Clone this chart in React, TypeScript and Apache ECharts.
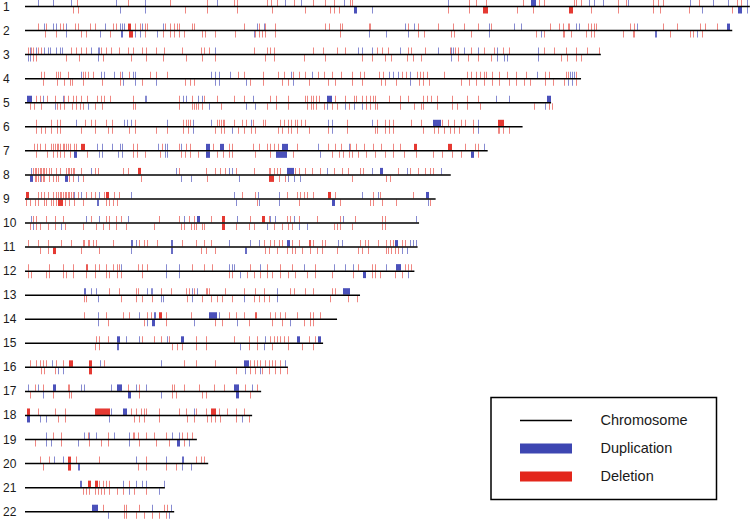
import React, { useEffect, useRef } from "react";
import * as echarts from "echarts";

type Mark = number | [number, number];
interface ChrCnv { dupUp: Mark[]; delUp: Mark[]; dupDown: Mark[]; delDown: Mark[]; }

// chromosome names and lengths (Mb)
const chromosomes = ["1","2","3","4","5","6","7","8","9","10","11","12","13","14","15","16","17","18","19","20","21","22"];
const lengthsMb = [249.25, 243.2, 198.0, 191.2, 180.9, 171.1, 159.1, 146.4, 141.2, 135.5, 135.0, 133.9, 115.2, 107.3, 102.5, 90.4, 81.2, 78.1, 59.1, 63.0, 48.1, 51.3];
const legendLabels = ["Chromosome", "Duplication", "Deletion"];

// CNV positions in Mb: Up = upper track, Down = lower track
const chr1: ChrCnv = {
  dupUp: [4.5, 9.6, 15.8, 31.2, 41.4, 66.1, 89.4, 94.9, 109.6, 145.5, [174, 175.7], 193.8, 195.5, 198.6, 207.5, 228.8, 236.6, 241.8, 248.3],
  delUp: [17.8, 35.3, 50.0, 62.7, 71.9, 72.9, 83.2, 84.6, 86.6, 92.5, 99.0, 103.1, 106.2, 111.6, 112.3, 152.7, 155.1, 158.6, 171.2, 176.7, 178.4, 188.7, 189.4, 191.1, 203.8, 206.8, 215.8, 217.8, 219.5, 231.9, 244.9, 246.2],
  dupDown: [32.5, 41.4, [113.0, 114.0], 119.2, 232.9, [245.2, 246.6], 248.3],
  delDown: [16.4, 18.2, 55.1, 62.7, 72.9, 84.9, 96.2, 104.8, 106.2, 107.9, 145.5, 152.7, [157.5, 159.2], 169.2, 174.7, [187.0, 188.4], 194.5, 203.8, 215.8, 218.5, 228.4, 243.2],
};
const chr2: ChrCnv = {
  dupUp: [6.7, 9.6, 10.6, 14.0, 27.4, 32.5, 33.2, 34.2, 40.4, 47.3, 79.8, 82.2, 130.5, 133.6, 159.6, 168.2, 170.5, 189.4, 190.4, 210.6, [241.4, 242.5]],
  delUp: [4.5, 7.2, 12.0, 13.0, 17.1, 18.2, 22.3, 24.0, 30.1, 31.2, [35.3, 36.3], 37.7, 39.7, 41.4, 42.1, 48.3, 49.7, 51.4, 52.4, 53.1, 57.5, 58.2, 75.3, 80.5, 82.5, 86.0, 103.1, 104.5, 108.2, 108.9, 118.2, 118.5, 131.8, 135.3, 142.1, 147.3, 151.0, 155.8, 160.3, 180.5, 183.6, 184.9, 186.6, 187.0, 193.5, 194.5, 195.5, 196.2, 208.2, 209.3, 219.5, 224.3, 232.2, 233.9, 238.0],
  dupDown: [14.0, 25.7, [32.9, 33.6], 37.7, 39.4, 45.5, 78.8, 118.2, 124.3, [131.8, 132.2], 159.6, 177.4, [216.8, 217.5], 231.2],
  delDown: [6.8, 10.6, 19.2, 20.9, 29.1, [35.6, 37.0], 41.4, 47.3, 50.0, 51.4, 53.1, 54.8, 61.0, 62.0, 65.4, 72.3, 79.1, 80.5, 81.5, 82.5, 86.0, 108.2, 135.3, 137.3, 146.6, 147.6, 153.4, 175.7, 178.4, 184.9, 185.3, 187.7, 192.8, 194.5, 195.5, 205.8, 208.9, 209.3, 221.9, 228.8, 229.8, 232.9],
};
const chr3: ChrCnv = {
  dupUp: [1.6, 3.9, 6.7, 7.9, 8.5, 10.7, 11.9, 12.8, 22.7, 25.0, 25.6, 65.5, 114.6, 115.8, 119.2, 128.9, 142.0, 146.6, 147.3, 151.1, 155.7, 162.3, 176.3],
  delUp: [1.0, 2.2, 2.7, 4.5, 5.6, 15.9, 17.6, 19.1, 21.0, 26.1, 27.8, 29.6, 32.4, 35.3, 37.0, 40.4, 41.5, 45.0, 47.8, 54.1, 60.4, 61.5, 63.3, 78.7, 83.2, 84.4, 85.5, 99.2, 102.6, 107.2, 110.0, 120.9, 122.6, 124.9, 131.7, 132.9, 137.4, 146.2, 147.9, 148.9, 153.4, 158.0, 161.3, 164.3, 166.5, 178.5, 182.0, 186.0, 189.4, 193.4, 197.4],
  dupDown: [1.0, 1.6, 25.0, 146.6, 162.3, 164.8, 165.8, 176.3],
  delDown: [2.7, 3.9, 14.1, 18.7, 26.7, 36.4, 41.5, 47.3, 55.2, 61.0, 65.5, 82.6, 85.5, 95.8, 103.2, 115.8, 119.2, 123.7, 126.0, 131.2, 133.5, 136.3, 148.9, 152.3, 155.7, 160.3, 184.2, 186.5, 189.4, 191.1],
};
const chr4: ChrCnv = {
  dupUp: [19.4, 26.0, 27.3, 30.6, 33.2, 37.1, 37.8, 64.0, 65.4, 66.7, 70.6, 91.6, 98.8, 125.1, 126.4, 128.3, 132.3, 176.2, 187.4, 188.1, 188.7],
  delUp: [5.6, 6.7, 10.6, 11.3, 12.2, 14.8, 20.1, 20.7, 21.7, 23.4, 32.5, 35.8, 43.0, 45.0, 49.0, 73.2, 75.2, 81.8, 87.0, 89.0, 92.3, 94.2, 96.2, 100.8, 102.8, 105.4, 108.7, 112.6, 115.2, 116.5, 121.8, 123.1, 129.7, 131.0, 134.9, 135.8, 136.9, 138.2, 144.1, 152.0, 153.3, 155.2, 156.5, 157.9, 158.5, 160.5, 163.1, 165.7, 169.0, 172.3, 178.9, 180.2, 186.1, 186.7, 189.4],
  dupDown: [33.8, 37.8, 45.0, 65.4, 66.7, 75.9, 92.3, 132.3, 186.7, 188.1],
  delDown: [6.3, 10.9, 13.5, 15.5, 16.1, 20.1, 26.6, 32.5, 40.4, 54.9, 56.8, 58.1, 77.2, 81.8, 88.3, 90.3, 97.5, 104.1, 106.7, 112.6, 115.9, 122.4, 123.8, 127.7, 135.6, 136.9, 138.9, 150.0, 152.6, 155.2, 157.9, 160.5, 163.1, 166.4, 169.0, 171.7, 173.6, 178.9, 181.5, 185.4, 189.4],
};
const chr5: ChrCnv = {
  dupUp: [[0.7, 2.4], 6.3, 12.9, 41.1, 41.7, 54.2, 55.5, 59.4, 60.8, 78.5, [103.8, 105.4], 161.8, 166.4, [179.5, 180.8]],
  delUp: [3.7, 5.0, 7.6, 10.2, 13.5, 14.8, 16.4, 17.5, 19.4, 21.4, 24.7, 26.0, 27.3, 29.3, 37.1, 52.9, 57.5, 61.4, 66.0, 71.9, 75.2, 84.4, 86.4, 90.3, 96.2, 97.1, 98.2, 99.1, 100.1, 101.2, 106.7, 110.0, 113.3, 113.9, 115.9, 117.2, 118.5, 119.8, 120.5, 125.1, 129.0, 131.6, 136.9, 138.2, 139.5, 141.5, 146.7, 152.0, 155.9],
  dupDown: [10.2, 21.7, 63.4, 75.9, 79.1, 103.8, 110.0, 113.3, 115.9, 178.9],
  delDown: [1.7, 3.0, 5.4, 10.9, 12.2, 13.5, 16.1, 17.5, 18.8, 20.1, 24.0, 26.6, 37.1, 37.8, 52.9, 57.5, 58.1, 58.8, 59.4, 60.8, 67.3, 83.1, 86.4, 90.3, 96.9, 98.2, 99.1, 100.1, 102.8, 105.4, 107.3, 111.3, 117.2, 118.5, 120.5, 121.1, 129.0, 133.6, 136.2, 136.9, 141.5, 146.7, 148.7, 152.0, 156.6, 174.9, 180.2, 181.1],
};
const chr6: ChrCnv = {
  dupUp: [17.7, 33.9, 35.2, 36.5, 49.0, 57.9, 64.0, 77.6, 104.1, 105.4, 119.2, [140.2, 142.8], 155.9],
  delUp: [3.7, 8.9, 10.9, 11.9, 20.7, 22.7, 24.0, 28.0, 29.9, 37.8, 54.2, 55.3, 56.2, 56.8, 66.0, 66.7, 67.3, 68.0, 68.6, 71.9, 74.5, 75.9, 78.5, 81.8, 82.4, 87.7, 89.0, 90.3, 91.6, 92.9, 93.6, 94.9, 96.2, 110.6, 121.1, 123.8, 125.1, 126.4, 132.9, 136.2, 143.4, 145.4, 147.4, 150.0, 151.3, 153.9, [162.5, 164.4]],
  dupDown: [57.9, 71.3, 105.4, 155.9],
  delDown: [3.7, 5.6, 7.0, 8.9, 10.9, 12.2, 19.4, 24.0, 28.6, 29.9, 35.8, 37.8, 45.0, 49.0, 54.2, 56.2, 65.4, 67.3, 68.6, 73.2, 75.2, 77.8, 79.1, 87.0, 88.3, 90.3, 91.6, 93.6, 97.5, 104.1, 110.6, 120.5, 121.1, 123.8, 125.1, 126.4, 136.9, 140.8, 142.1, 144.1, 146.1, 147.4, 149.3, 153.9, 162.5, 163.1, 164.4, 166.4],
};
const chr7: ChrCnv = {
  dupUp: [24.7, 26.6, 29.9, 32.5, 33.2, 45.7, 48.3, 49.0, 53.5, [62.1, 63.4], [67.1, 68.4], [88.3, 90.3], 100.8, 111.3, 157.9],
  delUp: [3.0, 4.1, 5.0, 7.0, 8.9, 9.6, 10.2, 10.9, 11.5, 12.2, 12.9, 13.5, 14.2, 14.8, 15.5, 16.8, 17.5, [19.4, 20.7], 37.1, 38.5, 47.0, 52.9, 55.5, 56.8, 64.7, 70.0, 71.3, 78.5, 80.4, 83.1, 84.4, 85.7, 87.0, 93.6, 104.1, 106.7, 108.7, 111.9, 113.9, 116.5, 119.8, 122.4, 126.4, 129.0, [133.6, 134.5], [145.4, 146.7], 151.3, 154.6, 155.9],
  dupDown: [[16.8, 17.8], 25.3, 26.6, 31.9, 33.2, 48.3, 49.0, [62.1, 63.4], [86.4, 90.3], 101.4, [153.3, 154.2]],
  delDown: [3.7, 7.6, 9.6, 10.9, 12.2, 13.5, 15.5, 21.4, 37.1, 38.5, 41.1, 46.3, 53.5, 54.9, 56.8, 59.4, 66.0, 68.0, 70.0, 71.3, 79.1, 84.4, 92.3, 105.4, 108.0, 109.3, 111.3, 112.6, 114.6, 117.2, 120.5, 123.8, 126.4, 130.3, 134.3, 140.2, 143.4, 146.7, 150.0, 155.9],
};
const chr8: ChrCnv = {
  dupUp: [2.2, 22.7, 51.8, 70.1, 71.2, [90.1, 92.4], 103.8, 119.2, [122.0, 123.2], 131.2, 143.2],
  delUp: [2.7, 3.3, 3.9, 4.5, 5.0, 5.6, 6.2, 6.7, 7.3, 8.4, 9.0, 10.7, 11.9, 14.2, 14.7, 15.3, 15.9, 16.4, 17.0, 19.3, 23.9, 25.0, 33.6, 35.3, [38.7, 39.8], 53.0, 62.1, 65.5, 67.2, 68.9, 72.4, 78.7, 83.8, 84.4, 85.5, 86.6, 87.8, 92.9, 94.1, 96.3, 98.6, 101.5, 106.1, 108.9, 111.2, 115.2, 116.3, 128.3, 132.3, 135.2, 137.4, 139.2, 140.3],
  dupDown: [[1.6, 2.7], 5.0, [13.6, 14.7], 18.2, 53.5, 57.0, 73.5, 90.6, 92.4, 94.6],
  delDown: [3.3, 3.9, 4.5, 5.6, 6.2, 6.7, 8.4, 9.6, 10.7, 11.3, 15.3, 16.4, 19.9, 39.8, 62.7, [83.8, 85.5], 87.2, 89.5, 112.3, 124.3, 125.5],
};
const chr9: ChrCnv = {
  dupUp: [17.0, 19.3, 25.6, 36.4, 71.8, 80.1, 87.2, 115.8, 121.5, [138.0, 139.2]],
  delUp: [[0.5, 1.6], 4.5, 5.6, 6.7, 7.9, 9.6, 10.7, 11.3, 11.9, 12.4, 13.0, 13.6, 14.2, 14.7, 15.3, 15.9, 16.4, 18.2, 21.0, 22.7, 23.9, 27.3, [27.9, 29.0], 30.7, 32.4, 74.7, 79.2, 90.1, 93.5, 94.6, 95.8, 96.9, 99.2, [104.3, 105.5], 106.6, 119.7, 122.0, 133.4],
  dupDown: [[24.8, 25.6], 72.4, 80.4, 87.2, [105.5, 106.6], 138.6],
  delDown: [0.5, 1.6, 3.3, 4.5, 6.7, 7.3, 9.0, 9.6, 10.7, [11.3, 13.0], 13.6, 15.3, 17.0, 19.9, 27.9, 29.0, 30.1, 31.8, 79.8, 94.1, 108.3, 118.6, 119.7, 122.6, 127.7, 139.2],
};
const chr10: ChrCnv = {
  dupUp: [2.2, 21.0, 25.6, 35.3, 54.7, [59.2, 60.4], 72.9, 84.4, 86.1, 92.4, 109.5, 134.6],
  delUp: [2.7, 3.9, 7.3, 10.2, 13.0, 22.7, 27.9, 29.0, 31.3, 33.0, 46.1, 53.0, 56.4, 58.1, 63.8, [67.8, 68.9], 77.5, [81.5, 82.6], 83.8, 90.1, 91.2, 94.1, 100.3, 108.3, 113.5, 122.6, 123.7],
  dupDown: [2.7, 12.4, 83.2, 94.1, 96.9],
  delDown: [1.6, 3.9, 5.0, 7.9, 10.2, 13.6, 19.9, 24.4, 26.7, 29.0, 31.3, 34.7, 44.4, 53.5, 54.7, 57.0, 58.1, 58.7, 61.0, 61.5, [67.8, 68.9], 72.4, 76.9, 78.7, 85.5, 88.4, 90.6, 91.8, 106.1, 107.2, 108.3, 112.3, 122.6, 123.7],
};
const chr11: ChrCnv = {
  dupUp: [[36.4, 37.0], 38.1, [50.1, 50.7], 70.1, 77.5, 80.4, [90.1, 91.2], 107.8, 108.9, [127.2, 128.3], 132.3, 133.4, 134.6],
  delUp: [1.0, [4.5, 5.0], 7.9, 12.4, 15.9, 19.9, 20.4, 21.6, 22.1, 23.3, 24.4, 30.1, 39.3, 41.0, 42.1, 45.5, 54.1, 58.7, 61.5, 63.8, 82.1, 84.4, 85.5, 87.2, 88.4, 91.8, 94.1, [97.5, 98.1], 99.2, 102.1, 103.2, 115.2, 116.9, 118.0, 121.5, 124.3, 125.5, 126.6, 129.5, 130.6],
  dupDown: [36.4, [50.1, 50.7], [75.8, 76.4], 129.5, 131.2],
  delDown: [5.0, 7.9, [9.6, 10.5], 19.3, 25.6, 60.4, 62.1, 65.5, 82.6, 83.8, 86.6, 90.1, 91.8, 92.9, 95.2, 98.1, 100.3, 102.1, 107.2, 114.6, 115.8, 118.0, 124.3, 124.9, 126.0, 127.2, 128.3],
};
const chr12: ChrCnv = {
  dupUp: [33.0, 48.4, 53.0, 70.1, 71.2, 71.8, 80.9, 95.8, 106.1, 110.0, 112.9, 124.3, [127.7, 129.5]],
  delUp: [1.0, 8.4, 13.0, 16.4, [21.0, 21.6], 23.9, 25.6, 27.9, 30.1, 31.8, 32.4, 38.7, 40.4, 42.1, 57.5, 61.5, 64.4, 77.5, 83.2, 87.8, 91.8, [99.8, 100.3], 114.6, 119.2, 120.3, 130.6, 131.7, 132.9],
  dupDown: [48.4, 53.0, 74.1, [116.3, 117.5], 131.7],
  delDown: [1.0, 2.2, 7.3, 8.4, 13.0, 14.2, 16.4, 21.0, 23.9, 27.9, 29.0, 31.8, 33.0, 40.4, 70.1, 71.2, 76.4, 78.7, 80.9, 83.2, 84.9, 87.8, 90.6, 92.9, 96.9, 99.8, 105.5, 112.9, 119.2, 120.3, 122.0, 127.2, 129.5],
};
const chr13: ChrCnv = {
  dupUp: [[20.2, 21.0], 22.7, 24.4, 42.1, 43.3, 43.8, 57.5, 59.2, 86.6, [109.5, 111.8]],
  delUp: [29.0, 32.4, 38.1, 38.7, 46.7, 50.1, 55.3, 56.4, 58.1, 62.1, 62.7, 63.2, 68.9, 75.2, 79.2, 82.1, 91.2, 92.4, 96.3, 99.2, 105.5, 106.6],
  dupDown: [25.0, 46.7, 47.3, 57.5, 75.2, 86.6],
  delDown: [20.4, 21.0, 33.0, 38.1, 40.4, 43.8, 55.8, 61.0, 63.8, 66.1, 67.8, 71.2, 78.7, 80.4, 82.1, 83.8, 104.9, 111.2, 114.0],
};
const chr14: ChrCnv = {
  dupUp: [25.0, [39.3, 39.8], [44.4, 45.2], [63.2, 66.1], 66.7],
  delUp: [20.4, [27.9, 28.4], 33.6, 35.8, 42.1, 43.3, [46.1, 47.3], 48.4, 57.0, 70.1, 72.4, 75.2, [79.2, 79.8], 84.4, 86.1, 87.8, 89.5, 93.5, 98.1, 99.2, 101.5],
  dupDown: [25.0, 42.1, [43.8, 45.0], 58.1, 72.9, 91.2],
  delDown: [28.4, 41.0, 48.4, 65.5, 67.8, 76.9, 84.9, 88.4, 95.8, 98.1, 99.2],
};
const chr15: ChrCnv = {
  dupUp: [[31.8, 33.0], 34.7, 39.3, 49.0, [53.5, 54.7], 82.6, [93.5, 94.6], [100.9, 102.1]],
  delUp: [24.4, 25.6, 28.4, 40.4, 44.4, 46.7, 49.5, 58.7, 62.1, 71.8, 76.9, 79.8, 84.4, 85.5, 86.6, 87.8, 88.9, 90.6, 97.5, 99.8],
  dupDown: [[31.8, 32.6], 74.1, 82.1],
  delDown: [23.9, 25.6, 50.7, 52.4, 54.1, 58.7, 62.1, 76.9, 79.8, 84.9, 90.6, 95.2, 99.2],
};
const chr16: ChrCnv = {
  dupUp: [9.4, 25.9, 46.7, [75.2, 76.9], 89.5],
  delUp: [1.6, 3.9, 5.3, 6.2, 7.1, 10.7, 13.0, [15.3, 16.8], [21.9, 23.1], 27.3, 54.7, 58.7, 65.5, 77.5, 78.7, 79.8, 80.9, 82.6, 83.8, 84.9, 86.1, 87.8],
  dupDown: [11.3, 13.0, 75.8, 80.9],
  delDown: [5.6, 6.7, 10.2, [21.9, 23.1], 72.4, 77.5, 79.2, 81.5, 83.8, 86.1, 87.8, 90.1],
};
const chr17: ChrCnv = {
  dupUp: [1.0, 4.5, [9.6, 10.5], 19.3, 20.4, 29.6, [31.8, 33.6], 38.1, 41.6, [71.8, 73.5], 78.1],
  delUp: [3.3, 6.2, 14.7, 15.3, 35.3, 39.3, 50.7, 51.3, 54.7, 59.8, 64.9, 68.4, 75.8, 79.8],
  dupDown: [6.2, [35.3, 36.4], 46.7, [72.4, 73.5]],
  delDown: [1.6, 9.6, 15.3, 15.9, 39.3, 50.7, 51.8, 61.0, 62.1, 77.5],
};
const chr18: ChrCnv = {
  dupUp: [29.6, [33.6, 34.9], 58.1],
  delUp: [[0.7, 1.6], 4.5, 10.2, 13.6, [23.9, 29.2], 36.4, 38.1, 39.8, 41.0, 41.6, 46.1, 53.0, 55.3, 58.7, 62.1, [63.8, 65.5], 66.7, 69.5, 72.4, 75.2],
  dupDown: [[0.7, 1.6], 5.0, 7.3, 29.0, 74.7],
  delDown: [11.3, 13.6, 37.6, 39.3, 41.0, 46.1, 55.8, 58.1, 62.7, 63.8, 65.5, 67.2, 72.4, 76.9],
};
const chr19: ChrCnv = {
  dupUp: [7.1, 20.4, 22.1, 24.4, 30.7, 35.8, 50.7, [53.0, 53.5]],
  delUp: [9.6, 12.4, 21.6, 28.4, 37.2, 37.6, 38.7, 41.6, 44.4, 48.4, 54.1, 55.8, 57.5],
  dupDown: [7.3, 9.0, 18.2, 35.8, [52.4, 53.5], 56.4],
  delDown: [3.3, 12.4, 22.1, 26.1, 28.4, 39.3, 45.0, 49.5, 54.7],
};
const chr20: ChrCnv = {
  dupUp: [9.9, 13.0, 38.1, 48.4, [54.1, 54.7]],
  delUp: [5.0, 8.4, [14.7, 15.9], 17.6, 25.3, 41.6, 58.7, 60.4, 61.5],
  dupDown: [[18.2, 19.0], 54.1, 57.0],
  delDown: [6.2, [14.7, 15.9], 38.7, 41.6, 48.4, 51.8],
};
const chr21: ChrCnv = {
  dupUp: [[18.9, 19.5], 33.6, 38.1, 40.4, 41.6, 47.8],
  delUp: [[21.6, 22.7], [23.9, 25.0], 25.6, 26.7, 27.9, 29.0, 35.8],
  dupDown: [35.8, 46.1],
  delDown: [19.9, 21.0, 22.1, 23.9, 25.0, 26.1, 27.3, 29.0, 31.8, 33.6, 37.6, 41.6],
};
const chr22: ChrCnv = {
  dupUp: [[23.1, 25.3], 43.8, 50.1],
  delUp: [26.7, 34.1, 34.7, 39.3, 47.8, 48.9],
  dupDown: [28.4, 49.5],
  delDown: [34.1, 34.9, 38.1, 41.0, 43.8, 46.1, 48.4],
};

const cnvByChromosome: ChrCnv[] = [chr1, chr2, chr3, chr4, chr5, chr6, chr7, chr8, chr9, chr10, chr11, chr12, chr13, chr14, chr15, chr16, chr17, chr18, chr19, chr20, chr21, chr22];

const BLUE = "#3d46b2";
const RED = "#e3261b";
const BLUE_RGB = "55, 62, 178";
const RED_RGB = "226, 36, 28";
const FONT = "'Liberation Sans', Arial, Helvetica, sans-serif";

function buildMarks(kind: "dup" | "del") {
  const out: number[][] = [];
  cnvByChromosome.forEach((c, i) => {
    const row = i + 1;
    const add = (list: Mark[], side: number) =>
      list.forEach((m) => {
        const [s, e] = typeof m === "number" ? [m, m] : m;
        out.push([s, e, row, side]);
      });
    if (kind === "dup") { add(c.dupUp, 0); add(c.dupDown, 1); }
    else { add(c.delUp, 0); add(c.delDown, 1); }
  });
  return out;
}

function markRenderer(rgb: string, thinAlpha: number) {
  return (params: any, api: any) => {
    const s = api.value(0), e = api.value(1), row = api.value(2), side = api.value(3);
    const p0 = api.coord([s, row]);
    const p1 = api.coord([e, row]);
    const x = Math.round(p0[0]);
    const w = Math.max(1, Math.round(p1[0] - p0[0]));
    const alpha = w <= 1 ? thinAlpha : w <= 2 ? 0.75 : 0.9;
    const y = side === 0 ? p0[1] - 7 : p0[1] + 0.5;
    return { type: "rect", shape: { x, y, width: w, height: 6.5 }, style: { fill: `rgba(${rgb}, ${alpha})` } };
  };
}

export default function App() {
  const ref = useRef<HTMLDivElement>(null);
  useEffect(() => {
    if (!ref.current) return;
    const chart = echarts.init(ref.current, null, { renderer: "svg" });
    const lineData = lengthsMb.map((l, i) => [0, l, i + 1]);
    chart.setOption({
      animation: false,
      grid: { left: 22, right: 0, top: 6.5, bottom: 7.3 },
      xAxis: { type: "value", min: 0, max: 249.3, show: false },
      yAxis: {
        type: "value", min: 1, max: 22, interval: 1, inverse: true,
        axisLine: { show: false }, axisTick: { show: false }, splitLine: { show: false },
        axisLabel: {
          formatter: (v: number) => chromosomes[Math.round(v) - 1] ?? "",
          align: "left", margin: 22, fontSize: 12, color: "#1a1a1a", fontFamily: FONT,
          verticalAlign: "middle", padding: [0, 0, 4, 0],
        },
      },
      series: [
        { type: "custom", name: "Deletion", data: buildMarks("del"), renderItem: markRenderer(RED_RGB, 0.55), encode: { x: [0, 1], y: 2 }, z: 2, clip: false },
        { type: "custom", name: "Duplication", data: buildMarks("dup"), renderItem: markRenderer(BLUE_RGB, 0.6), encode: { x: [0, 1], y: 2 }, z: 3, clip: false },
        {
          type: "custom", name: "Chromosome", data: lineData, encode: { x: [0, 1], y: 2 }, z: 5, clip: false,
          renderItem: (params: any, api: any) => {
            const p0 = api.coord([api.value(0), api.value(2)]);
            const p1 = api.coord([api.value(1), api.value(2)]);
            return { type: "line", shape: { x1: p0[0], y1: p0[1], x2: p1[0], y2: p1[1] }, style: { stroke: "#000", lineWidth: 1.5 } };
          },
        },
      ],
      graphic: [
        { type: "rect", shape: { x: 491, y: 397.5, width: 225.5, height: 102 }, style: { fill: "#fff", stroke: "#000", lineWidth: 1.5 }, z: 10 },
        { type: "line", shape: { x1: 520, y1: 420.5, x2: 572, y2: 420.5 }, style: { stroke: "#000", lineWidth: 1.5 }, z: 11 },
        { type: "rect", shape: { x: 520, y: 443.5, width: 52, height: 10 }, style: { fill: BLUE }, z: 11 },
        { type: "rect", shape: { x: 520, y: 471.5, width: 52, height: 10 }, style: { fill: RED }, z: 11 },
        ...legendLabels.map((t, i) => ({
          type: "text", x: 600.5, y: 420 + i * 28, z: 11,
          style: { text: t, fill: "#1a1a1a", font: `14.5px ${FONT}`, textVerticalAlign: "middle", verticalAlign: "middle" },
        })),
      ],
    });
    return () => chart.dispose();
  }, []);
  return <div ref={ref} style={{ position: "fixed", left: 0, top: 0, width: 750, height: 519, background: "#fff" }} />;
}
